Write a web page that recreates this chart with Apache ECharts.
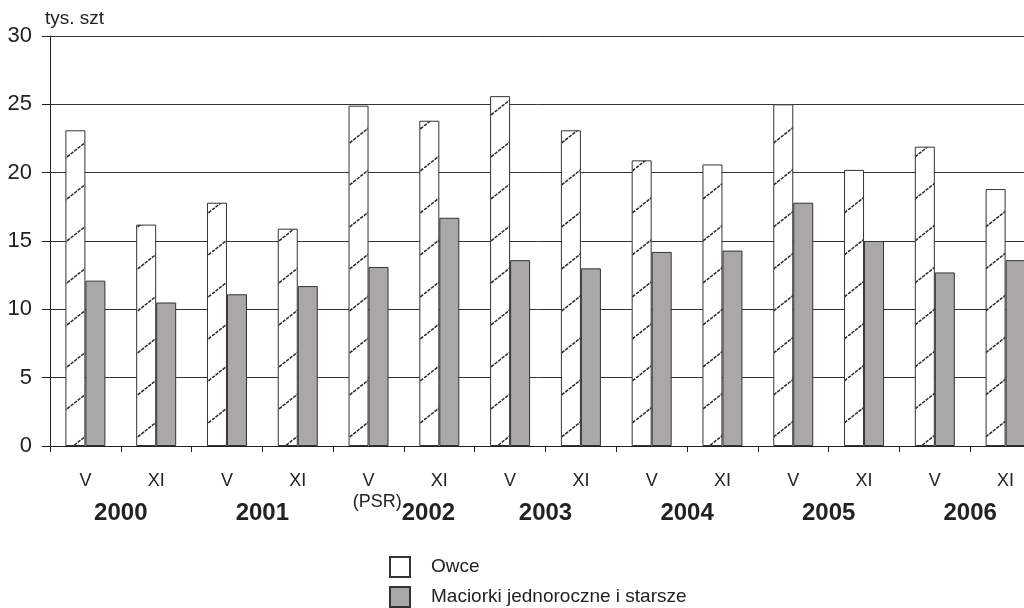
<!DOCTYPE html>
<html>
<head>
<meta charset="utf-8">
<script src="https://cdn.jsdelivr.net/npm/echarts@6/dist/echarts.min.js"></script>
<style>
html,body{margin:0;padding:0;background:#fff;}
#c{width:1024px;height:608px;}
</style>
</head>
<body>
<div id="c"></div>
<script>
const categories = ['V','XI','V','XI','V','XI','V','XI','V','XI','V','XI','V','XI'];
const years = ['2000','2001','2002','2003','2004','2005','2006'];
const owce = [23.1,16.2,17.8,15.9,24.9,23.8,25.6,23.1,20.9,20.6,25.0,20.2,21.9,18.8];
const maciorki = [12.1,10.5,11.1,11.7,13.1,16.7,13.6,13.0,14.2,14.3,17.8,15.0,12.7,13.6];
const seriesNames = ['Owce','Maciorki jednoroczne i starsze'];
const yTicks = {min:0, max:30, interval:5};
const unitLabel = 'tys. szt';
const psrNote = '(PSR)';

function hatch(){
  const W = 53, H = 42;
  const cv = document.createElement('canvas');
  cv.width = W; cv.height = H;
  const ctx = cv.getContext('2d');
  ctx.fillStyle = '#ffffff';
  ctx.fillRect(0,0,W,H);
  ctx.strokeStyle = '#2a2a2a';
  ctx.lineWidth = 1.5;
  ctx.setLineDash([3.5,1]);
  ctx.beginPath();
  ctx.moveTo(0,H); ctx.lineTo(W,0);
  ctx.moveTo(-W,2*H); ctx.lineTo(0,H);
  ctx.moveTo(W,0); ctx.lineTo(2*W,-H);
  ctx.stroke();
  return cv;
}

const chart = echarts.init(document.getElementById('c'), null, {renderer:'canvas'});
const font = '"Liberation Sans", Arial, sans-serif';
chart.setOption({
  animation:false,
  backgroundColor:'#ffffff',
  textStyle:{fontFamily:font},
  grid:{left:50, top:36, bottom:162, width:991, containLabel:false, outerBoundsMode:'none'},
  legend:{
    orient:'vertical', left:389, top:556, padding:0,
    itemWidth:20, itemHeight:20, itemGap:8, icon:'rect',
    textStyle:{fontSize:19, color:'#222', fontFamily:font, padding:[0,0,0,16]},
    data:[seriesNames[0], seriesNames[1]]
  },
  xAxis:[{
    type:'category', data:categories, position:'bottom',
    axisLine:{show:true, lineStyle:{color:'#222', width:1}},
    axisTick:{show:true, inside:false, length:6, interval:0, lineStyle:{color:'#222'}},
    axisLabel:{interval:0, margin:26, fontSize:18, color:'#222', fontFamily:font},
    splitLine:{show:false}
  },{
    type:'category', data:years, position:'bottom', gridIndex:0,
    axisLine:{show:false}, axisTick:{show:false},
    axisLabel:{
      interval:0, margin:50, color:'#222', fontFamily:font,
      formatter:function(v){ return v==='2002' ? '{p|'+psrNote+'}{y|'+v+'}' : '{y|'+v+'}'; },
      rich:{
        y:{fontSize:24, lineHeight:24, fontWeight:'bold', color:'#222', fontFamily:font, padding:[11,0,0,0]},
        p:{fontSize:18, lineHeight:24, color:'#222', fontFamily:font, padding:[0,0,11,0]}
      }
    }
  }],
  yAxis:{
    type:'value', min:yTicks.min, max:yTicks.max, interval:yTicks.interval,
    name:unitLabel, nameLocation:'end', nameGap:8,
    nameTextStyle:{fontSize:19, color:'#222', align:'left', fontFamily:font, padding:[0,0,0,-5]},
    axisLine:{show:true, lineStyle:{color:'#222', width:1}},
    axisTick:{show:true, inside:false, length:8, lineStyle:{color:'#222'}},
    axisLabel:{fontSize:22, color:'#222', margin:18, fontFamily:font},
    splitLine:{show:true, lineStyle:{color:'#333', width:1}}
  },
  series:[{
    name:seriesNames[0], type:'bar', data:owce, xAxisIndex:0,
    barWidth:20, barGap:'0%',
    itemStyle:{color:{image:hatch(), repeat:'repeat'}, borderColor:'#333', borderWidth:1}
  },{
    name:seriesNames[1], type:'bar', data:maciorki, xAxisIndex:0,
    barWidth:20, barGap:'0%',
    itemStyle:{color:'#a9a8a6', borderColor:'#333', borderWidth:1}
  }]
});
</script>
</body>
</html>
